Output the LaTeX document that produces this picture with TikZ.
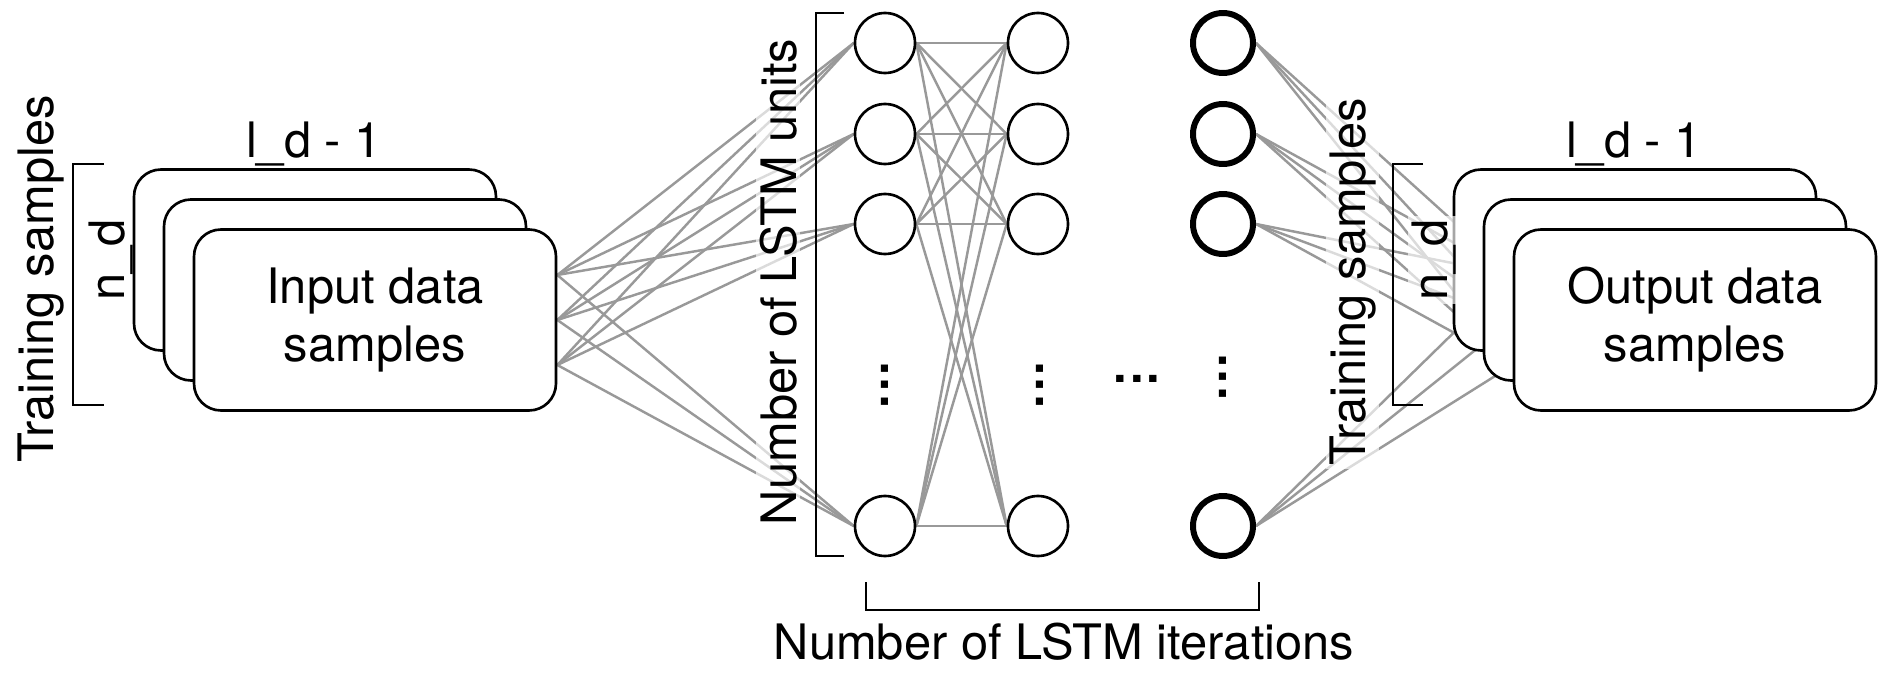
\documentclass[tikz,border=0pt]{standalone}
\usepackage{fontspec}
\setmainfont{TeX Gyre Heros}
\usetikzlibrary{backgrounds}
\newcommand{\dotrow}{\bfseries.\kern.06em.\kern.06em.}
\tikzset{
  sample/.style={draw, line width=0.75pt, fill=white, rounded corners=0.27cm,
    minimum width=3.62cm, minimum height=1.81cm, align=center, inner sep=0pt},
  cell/.style={draw, circle, line width=0.75pt, fill=white, minimum size=0.6cm, inner sep=0pt},
  lastcell/.style={cell, line width=1.7pt},
  link/.style={black!40, line width=0.7pt},
  halo/.style={fill=white, fill opacity=0.65, text opacity=1, inner sep=1pt},
  brace/.style={line width=0.8pt}
}
\begin{document}
\begin{tikzpicture}[font=\fontsize{13.9}{16.5}\selectfont]
            \useasboundingbox (0,0) rectangle (18.78,6.72);
            % input and output stacks
            \node [sample] (inback) at (3.15,4.12) {};
            \node [sample] (inmid) at (3.45,3.82) {};
            \node [sample] (infront) at (3.75,3.52) {Input data\\samples};
            \node [sample] (outback) at (16.35,4.12) {};
            \node [sample] (outmid) at (16.65,3.82) {};
            \node [sample] (outfront) at (16.95,3.52) {Output data\\samples};
            % LSTM cells
            \foreach \y [count=\i] in {6.29,5.38,4.48,1.46} {
                \node [cell] (a\i) at (8.85,\y) {};
                \node [cell] (b\i) at (10.38,\y) {};
                \node [lastcell] (c\i) at (12.23,\y) {};
            }
            \node [rotate=90] (adots) at (8.85,2.87) {\dotrow};
            \node [rotate=90] (bdots) at (10.40,2.87) {\dotrow};
            \node (mdots) at (11.37,2.93) {\dotrow};
            \node [rotate=90] (cdots) at (12.23,2.95) {\dotrow};
            % links
            \begin{scope}[on background layer]
                \foreach \i in {1,...,4} {
                    \foreach \s in {-0.45cm,0cm,0.45cm} {
                        \draw [link] ([yshift=\s]infront.east) -- (a\i.west);
                        \draw [link] (c\i.east) -- ([yshift=\s]outfront.west);
                    }
                    \foreach \j in {1,...,4}
                        \draw [link] (a\i.east) -- (b\j.west);
                }
            \end{scope}
            % brackets
            \draw [brace] (1.04,5.08) -- (0.73,5.08) -- (0.73,2.67) -- (1.04,2.67);
            \draw [brace] (14.23,5.08) -- (13.93,5.08) -- (13.93,2.67) -- (14.23,2.67);
            \draw [brace] (8.44,6.59) -- (8.16,6.59) -- (8.16,1.16) -- (8.44,1.16);
            \draw [brace] (8.66,0.90) -- (8.66,0.62) -- (12.59,0.62) -- (12.59,0.90);
            % labels
            \node [rotate=90, anchor=base] (tsin) at (0.54,3.93) {Training samples};
            \node [rotate=90, anchor=base] (ndin) at (1.25,4.12) {n\_d};
            \node [anchor=base] (ldin) at (3.14,5.14) {l\_d - 1};
            \node [rotate=90, anchor=base, halo] (units) at (7.96,3.90) {Number of LSTM units};
            \node [anchor=base] (iters) at (10.64,0.13) {Number of LSTM iterations};
            \node [rotate=90, anchor=base, halo] (tsout) at (13.65,3.90) {Training samples};
            \node [rotate=90, anchor=base, halo] (ndout) at (14.47,4.12) {n\_d};
            \node [anchor=base] (ldout) at (16.34,5.14) {l\_d - 1};
        \end{tikzpicture}
\end{document}
